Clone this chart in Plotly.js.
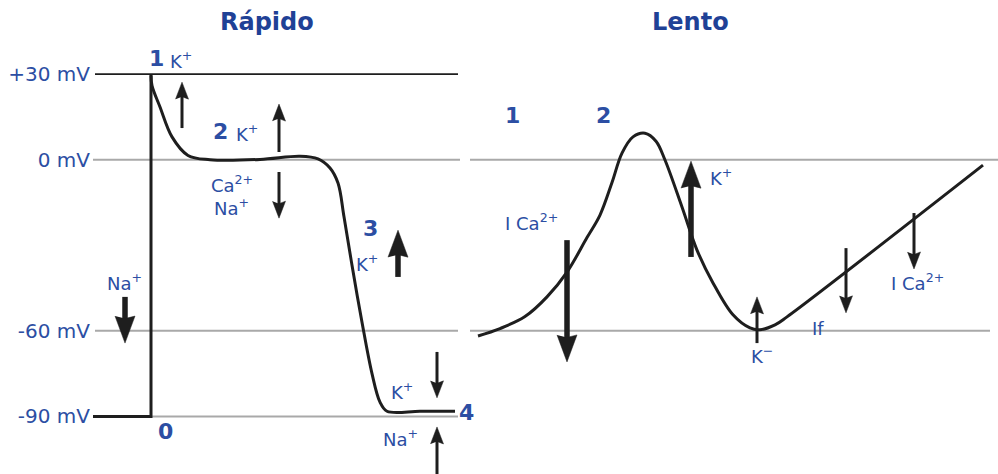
<!DOCTYPE html>
<html><head><meta charset="utf-8">
<script src="https://cdn.plot.ly/plotly-3.0.1.min.js"></script>
<style>html,body{margin:0;padding:0;background:#fff}#chart{width:998px;height:474px}</style>
</head><body><div id="chart"></div>
<script>
// ---- Data (time in arbitrary units, membrane potential in mV) ----
// Fast response action potential: phase 0 (upstroke)
const fastPhase0T  = [93, 151, 151];
const fastPhase0Mv = [-90, -90, 30];
// Fast response: phases 1-4
const fastT  = [151, 152, 160, 172, 188, 210, 260, 300, 318, 330, 338, 344, 352, 362, 372, 380, 387, 420, 455];
const fastMv = [29.5, 26.0, 18.5, 8.0, 1.5, 0.0, 0.1, 1.2, 0.3, -2.9, -8.2, -20.0, -37.0, -57.0, -75.0, -85.0, -88.2, -88.2, -88.2];
// Slow response action potential
const slowT  = [478, 500, 525, 547, 567, 587, 600, 612, 622, 633, 645, 656, 665, 682, 697, 713, 733, 750, 760, 775, 787, 983];
const slowMv = [-61.8, -59.2, -55.0, -48.1, -39.4, -27.3, -19.4, -8.0, 2.3, 8.0, 9.3, 6.5, -0.1, -16.6, -31.7, -43.2, -54.4, -59.0, -59.6, -57.9, -55.1, -1.9];
// Reference levels (mV) and their tick labels
const levelMv   = [30, 0, -60, -90];
const levelText = ['+30 mV', '0 mV', '-60 mV', '-90 mV'];
// Ion current arrows: time, start (mV), end/tip (mV), thick?
const arrowT      = [182, 279, 279, 125, 398, 437, 437, 567, 691, 757, 846, 914];
const arrowFromMv = [11.1, 2.7, -4.3, -48.1, -41.1, -67.4, -112, -28.2, -34.1, -64.3, -31.0, -18.7];
const arrowToMv   = [27.2, 19.5, -20.5, -64.3, -24.7, -83.5, -93.7, -70.9, -0.5, -48.1, -53.7, -38.3];
const arrowThick  = [0, 0, 0, 1, 1, 0, 0, 1, 1, 0, 0, 0];

// ---- Layout / styling ----
const W = 998, H = 474, ML = 93;
const xRange = [93, 998];
const yRange = [-110.2, 56.0];
const pxPerMv = H / (yRange[1] - yRange[0]);
const pxPerT = (W - ML) / (xRange[1] - xRange[0]);
const INK = '#1e1e1e', GRAY = '#a9a9a9', BLUE = '#2c4ea3', TITLE_BLUE = '#1f4196';
const FONT = 'DejaVu Sans';

const traces = [];
traces.push({x: fastPhase0T, y: fastPhase0Mv, mode: 'lines', line: {color: INK, width: 3}, hoverinfo: 'skip'});
traces.push({x: fastT, y: fastMv, mode: 'lines', line: {color: INK, width: 3, shape: 'spline', smoothing: 1}, hoverinfo: 'skip'});
traces.push({x: slowT, y: slowMv, mode: 'lines', line: {color: INK, width: 3, shape: 'spline', smoothing: 1}, hoverinfo: 'skip'});

// arrows built from the arrays
const headSpec = [{L: 17, Wd: 13, sw: 3}, {L: 27, Wd: 20, sw: 5.5}];
[0, 1].forEach(k => {
  const sx = [], sy = [], hx = [], hy = [];
  arrowT.forEach((t, i) => {
    if (arrowThick[i] !== k) return;
    const spec = headSpec[k];
    const dir = Math.sign(arrowToMv[i] - arrowFromMv[i]);
    const Lmv = spec.L / pxPerMv;
    const base = arrowToMv[i] - dir * Lmv;
    const notch = base + dir * (2.5 / pxPerMv);
    const halfW = spec.Wd / 2 / pxPerT;
    sx.push(t, t, null); sy.push(arrowFromMv[i], notch + dir * (2 / pxPerMv), null);
    hx.push(t - halfW, t, t + halfW, t, null);
    hy.push(base, arrowToMv[i], base, notch, null);
  });
  traces.push({x: sx, y: sy, mode: 'lines', line: {color: INK, width: headSpec[k].sw}, hoverinfo: 'skip'});
  traces.push({x: hx, y: hy, mode: 'lines', fill: 'toself', fillcolor: INK, line: {color: INK, width: 0.5}, hoverinfo: 'skip'});
});

// reference lines
const guides = [
  {mv: levelMv[0], x0: 95,  x1: 458, color: INK,  w: 1.6},
  {mv: levelMv[1], x0: 93,  x1: 460, color: GRAY, w: 2},
  {mv: levelMv[1], x0: 470, x1: 998, color: GRAY, w: 2},
  {mv: levelMv[2], x0: 95,  x1: 458, color: GRAY, w: 2},
  {mv: levelMv[2], x0: 470, x1: 990, color: GRAY, w: 2},
  {mv: levelMv[3], x0: 151, x1: 458, color: GRAY, w: 2}
];
const shapes = guides.map(g => ({type: 'line', xref: 'x', yref: 'y', x0: g.x0, x1: g.x1, y0: g.mv, y1: g.mv,
  line: {color: g.color, width: g.w}, layer: 'below'}));

// labels
const sup = s => '<sup>' + s + '</sup>';
const labels = [
  {t: '<b>Rápido</b>', x: 267, y: 48.2, s: 24, c: TITLE_BLUE},
  {t: '<b>Lento</b>', x: 690, y: 48.2, s: 24, c: TITLE_BLUE},
  {t: '<b>1</b>', x: 156, y: 35.6, s: 22},
  {t: 'K' + sup('+'), x: 181, y: 34.9, s: 18},
  {t: '<b>2</b>', x: 220, y: 10.0, s: 22},
  {t: 'K' + sup('+'), x: 247, y: 9.3, s: 18},
  {t: 'Ca' + sup('2+'), x: 232, y: -8.5, s: 18},
  {t: 'Na' + sup('+'), x: 231, y: -16.6, s: 18},
  {t: '<b>3</b>', x: 370, y: -24.0, s: 22},
  {t: 'K' + sup('+'), x: 367, y: -36.2, s: 18},
  {t: 'Na' + sup('+'), x: 124, y: -42.9, s: 18},
  {t: 'K' + sup('+'), x: 402, y: -81.1, s: 18},
  {t: '<b>4</b>', x: 466, y: -88.8, s: 22},
  {t: '<b>0</b>', x: 165, y: -95.4, s: 22},
  {t: 'Na' + sup('+'), x: 400, y: -97.6, s: 18},
  {t: '<b>1</b>', x: 512, y: 15.6, s: 22},
  {t: '<b>2</b>', x: 603, y: 15.6, s: 22},
  {t: 'K' + sup('+'), x: 721, y: -6.1, s: 18},
  {t: 'I Ca' + sup('2+'), x: 531, y: -21.9, s: 18},
  {t: 'K' + sup('−'), x: 762, y: -68.5, s: 18},
  {t: 'If', x: 818, y: -59.3, s: 18},
  {t: 'I Ca' + sup('2+'), x: 917, y: -42.9, s: 18}
];
const annotations = labels.map(l => ({text: l.t, x: l.x, y: l.y, xref: 'x', yref: 'y', showarrow: false,
  xanchor: 'center', yanchor: 'middle', font: {family: FONT, size: l.s, color: l.c || BLUE}}));

const layout = {
  width: W, height: H, margin: {l: ML, r: 0, t: 0, b: 0, pad: 0},
  paper_bgcolor: '#fff', plot_bgcolor: '#fff', showlegend: false,
  xaxis: {range: xRange, visible: false, fixedrange: true},
  yaxis: {range: yRange, tickvals: levelMv, ticktext: levelText, showgrid: false, zeroline: false,
    showline: false, ticks: '', ticklabelstandoff: 2, tickfont: {family: FONT, size: 20, color: BLUE}, fixedrange: true},
  shapes: shapes, annotations: annotations
};
Plotly.newPlot('chart', traces, layout, {displayModeBar: false, staticPlot: true});
</script></body></html>
